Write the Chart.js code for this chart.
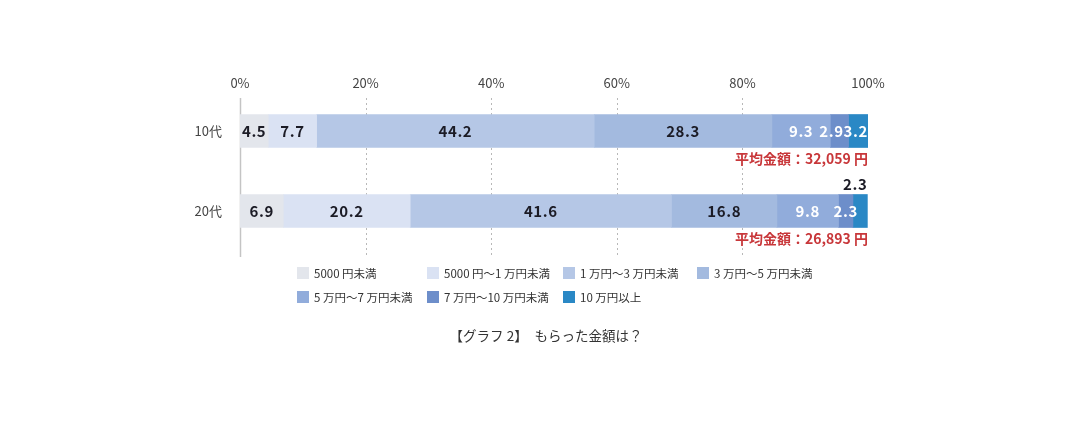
<!DOCTYPE html>
<html lang="ja">
<head>
<meta charset="utf-8">
<script src="https://cdn.jsdelivr.net/npm/chart.js@4"></script>
<style>
  body { margin: 0; background: #fff; font-family: "Noto Sans CJK JP", sans-serif; }
  #wrap { position: relative; width: 1080px; height: 422px; }
  #chart { position: absolute; left: 0; top: 0; }
  #legend {
    position: absolute; left: 297px; top: 264px;
    display: grid; grid-template-columns: 130px 136px 134px auto;
    row-gap: 6px; font-size: 11.5px; color: #333;
  }
  .item { display: flex; align-items: center; height: 18px; white-space: nowrap; }
  .box { width: 12px; height: 12px; margin-right: 5px; flex: none; }
  #title { position: absolute; left: 0; width: 1092px; top: 325px; text-align: center; font-size: 13.5px; color: #333; }
</style>
</head>
<body>
<div id="wrap">
  <canvas id="chart" width="1080" height="422"></canvas>
  <div id="legend"></div>
  <div id="title">【グラフ 2】　もらった金額は？</div>
</div>
<script>
document.addEventListener("DOMContentLoaded", () => {
  // data
  const ages = ["10代", "20代"];
  const ranges = ["5000 円未満", "5000 円〜1 万円未満", "1 万円〜3 万円未満", "3 万円〜5 万円未満",
                  "5 万円〜7 万円未満", "7 万円〜10 万円未満", "10 万円以上"];
  const teens   = [4.5, 7.7, 44.2, 28.3, 9.3, 2.9, 3.2];
  const twenties = [6.9, 20.2, 41.6, 16.8, 9.8, 2.3, 2.3];
  const avgAmounts = ["32,059", "26,893"];
  const xTicks = [0, 20, 40, 60, 80, 100];

  const colors = ["#e3e6ec", "#dae2f3", "#b5c7e6", "#a3badf", "#91acdb", "#6d8eca", "#2a88c5"];
  const labelColors = ["#1b1b25", "#1b1b25", "#1b1b25", "#1b1b25", "#ffffff", "#ffffff", "#ffffff"];
  // which segment's label sits above the bar (row index -> dataset index)
  const aboveLabel = { 1: 6 };

  // legend
  const legend = document.getElementById("legend");
  ranges.forEach((r, i) => {
    const it = document.createElement("div");
    it.className = "item";
    it.innerHTML = `<span class="box" style="background:${colors[i]}"></span>${r}`;
    legend.appendChild(it);
  });

  const datasets = ranges.map((r, i) => ({
    label: r,
    data: [teens[i], twenties[i]],
    backgroundColor: colors[i],
    borderWidth: 0,
    barThickness: 33
  }));

  const font = "Noto Sans CJK JP";

  // dashed grid + left axis line
  const gridPlugin = {
    id: "grid",
    beforeDatasetsDraw(chart) {
      const { ctx, chartArea, scales } = chart;
      const top = chartArea.top + 7, bottom = chartArea.bottom + 6;
      ctx.save();
      xTicks.forEach(v => {
        const x = Math.round(scales.x.getPixelForValue(v)) + 0.5;
        if (v === 100) return;
        ctx.beginPath();
        ctx.strokeStyle = v === 0 ? "#c4c4c4" : "#b8b8b8";
        ctx.lineWidth = v === 0 ? 1.5 : 1;
        ctx.setLineDash(v === 0 ? [] : [2, 3]);
        ctx.moveTo(x, top);
        ctx.lineTo(x, bottom);
        ctx.stroke();
      });
      ctx.restore();
    }
  };

  // value labels + averages
  const labelPlugin = {
    id: "labels",
    afterDatasetsDraw(chart) {
      const { ctx, chartArea } = chart;
      ctx.save();
      ctx.font = `bold 15px "${font}"`;
      ctx.letterSpacing = "0.6px";
      ctx.textBaseline = "middle";
      ages.forEach((age, j) => {
        const items = [];
        chart.data.datasets.forEach((ds, i) => {
          const bar = chart.getDatasetMeta(i).data[j];
          const txt = ds.data[j].toFixed(1);
          if (aboveLabel[j] === i) {
            ctx.fillStyle = "#1b1b25";
            ctx.textAlign = "right";
            ctx.fillText(txt, bar.x, bar.y - bar.height / 2 - 10);
          } else {
            items.push({ txt, i, y: bar.y, cx: (bar.x + bar.base) / 2, w: ctx.measureText(txt).width });
          }
        });
        // push crowded labels leftwards so they don't overlap
        let limit = chartArea.right;
        for (let k = items.length - 1; k >= 0; k--) {
          const it = items[k];
          if (it.cx + it.w / 2 > limit) it.cx = limit - it.w / 2;
          limit = it.cx - it.w / 2;
        }
        ctx.textAlign = "center";
        items.forEach(it => {
          ctx.fillStyle = labelColors[it.i];
          ctx.fillText(it.txt, it.cx, it.y);
        });
      });
      const meta0 = chart.getDatasetMeta(0);
      ctx.font = `bold 14px "${font}"`;
      ctx.letterSpacing = "0px";
      ctx.fillStyle = "#c8373a";
      ctx.textAlign = "right";
      meta0.data.forEach((bar, j) => {
        ctx.fillText("平均金額：" + avgAmounts[j] + " 円", chartArea.right, bar.y + bar.height / 2 + 11);
      });
      ctx.restore();
    }
  };

  new Chart(document.getElementById("chart").getContext("2d"), {
    type: "bar",
    data: { labels: ages, datasets },
    options: {
      indexAxis: "y",
      responsive: false,
      animation: false,
      layout: { padding: { left: 180, right: 212, top: 60, bottom: 171 } },
      plugins: { legend: { display: false }, tooltip: { enabled: false } },
      scales: {
        x: {
          position: "top",
          stacked: true,
          min: 0, max: 100,
          afterBuildTicks: s => { s.ticks = xTicks.map(v => ({ value: v })); },
          afterFit: s => { s.height = 31; },
          grid: { display: false, drawTicks: false },
          border: { display: false },
          ticks: { callback: v => v + "%", color: "#444", font: { family: font, size: 13 }, padding: 0 }
        },
        y: {
          stacked: true,
          afterFit: s => { s.width = 60; },
          grid: { display: false, drawTicks: false },
          border: { display: false },
          ticks: { color: "#444", font: { family: font, size: 13 }, padding: 18 }
        }
      }
    },
    plugins: [gridPlugin, labelPlugin]
  });
});
</script>
</body>
</html>
